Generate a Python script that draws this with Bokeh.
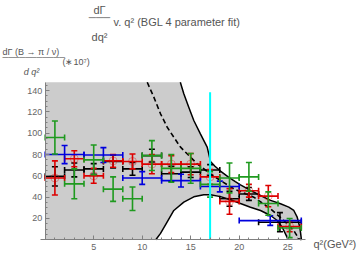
import numpy as np
from bokeh.plotting import figure
from bokeh.models import Label, Range1d, FixedTicker
from bokeh.embed import file_html
from bokeh.resources import INLINE

# ---------------- data ----------------
# upper / lower bound of the fit band and central (dashed) fit
upper_x = [13.93, 14.29, 14.80, 15.32, 16.0, 16.70, 17.04, 17.5, 18.07, 18.93, 19.6, 20.13,
           21.16, 22.20, 23.23, 24.26, 25.11, 25.63, 25.98, 26.25, 26.42]
upper_y = [147.8, 137, 124.4, 111.9, 99.4, 86.9, 73.5, 69, 64.5, 58.5, 54.5, 51.5,
           46.3, 41.6, 37.0, 33.8, 30.6, 27.5, 21.2, 11.8, 0]
lower_x = [11.4, 11.89, 12.4, 13.26, 14.29, 15.32, 16.35, 17.04, 18.07, 19.10, 20.13,
           21.16, 22.20, 23.23, 23.92, 24.43, 24.77, 25.05]
lower_y = [0, 6, 14, 27.5, 35.3, 40.3, 42.3, 42.3, 40.5, 37.5, 34.0,
           30.6, 27.5, 22.8, 18.1, 11.8, 5.6, 0]
dash_x = [10.52, 11.20, 11.89, 12.58, 13.26, 13.95, 14.98, 15.67, 17.0, 18.07, 19.44,
          21.5, 23.23, 24.6, 25.63, 26.15, 26.42]
dash_y = [147.8, 133.8, 118.2, 105.6, 96.2, 86.9, 77.5, 71.3, 62, 55.6, 47.8,
          40, 29.1, 18.1, 8.7, 0.9, 0]
cut_q2 = 17.0
cut_top = 138.5

# black series (12 bins)
k_x = [1, 3, 5, 7, 9, 11, 13, 15, 17, 19, 21, 24.2]
k_ex = [1, 1, 1, 1, 1, 1, 1, 1, 1, 1, 1, 2.2]
k_y = [59.5, 65.5, 66.5, 73.5, 66.5, 79, 62, 63.5, 65.5, 38.5, 43, 16.5]
k_ey = [9, 6.5, 5, 6, 6, 6, 7, 5, 5, 7, 6, 9]
# red series (13 bins)
r_x = [1, 3, 5, 7, 9, 11, 13, 15, 17, 19, 21, 23, 25.2]
r_ex = [1, 1, 1, 1, 1, 1, 1, 1, 1, 1, 1, 1, 1.2]
r_y = [58, 76, 60, 74, 73.5, 71, 71, 71, 59, 36, 46, 41, 12.5]
r_ey = [16, 7.5, 7, 6, 7, 9, 8, 10, 7, 12, 6, 10, 5]
# blue series (6 bins)
b_x = [2, 6, 10, 14, 18, 23.2]
b_ex = [2, 2, 2, 2, 2, 3.2]
b_y = [80, 79.5, 58, 55.5, 50, 18]
b_ey = [8.5, 7, 6, 6, 5, 4.5]
# green series (13 bins)
g_x = [1, 3, 5, 7, 9, 11, 13, 15, 17, 19, 21, 23, 25.2]
g_ex = [1, 1, 1, 1, 1, 1, 1, 1, 1, 1, 1, 1, 1.2]
g_y = [96, 52.5, 75, 47.5, 38.5, 79, 67, 67, 52, 58, 59, 34, 11]
g_ey = [15.5, 14, 14, 11.5, 11, 14, 13, 14, 12, 14, 13.5, 11, 9]

x_ticks = [5, 10, 15, 20, 25]
y_ticks = [20, 40, 60, 80, 100, 120, 140]
X_MIN, X_MAX = 0.0, 26.8     # plot range of the panel
Y_MIN, Y_MAX = 0.0, 147.8

TXT = "#555555"
TICK_TXT = "#666666"
FONT = "Liberation Sans"

W, H = 360, 256
OX, OY = 44.7, 239.3         # page pixel of the origin
SX, SY = 9.7, 1.066          # pixels per unit

p = figure(width=W, height=H, output_backend="svg", toolbar_location=None,
           x_range=Range1d(-OX / SX, (W - OX) / SX),
           y_range=Range1d(-(H - OY) / SY, OY / SY),
           min_border=0)
p.background_fill_color = "white"
p.border_fill_color = "white"
p.outline_line_color = None
p.grid.visible = False

for ax in (p.xaxis[0], p.yaxis[0]):
    ax.fixed_location = 0
    ax.axis_line_color = "#808080"
    ax.major_tick_line_color = "#808080"
    ax.minor_tick_line_color = "#808080"
    ax.major_tick_in = 4
    ax.major_tick_out = 0
    ax.minor_tick_in = 2
    ax.minor_tick_out = 0
    ax.major_label_text_color = TICK_TXT
    ax.major_label_text_font = FONT
    ax.major_label_text_font_size = "9px"
p.xaxis.bounds = (-0.45, X_MAX)
p.yaxis.bounds = (Y_MIN, Y_MAX)
p.xaxis.ticker = FixedTicker(ticks=x_ticks, minor_ticks=list(range(1, 27)))
p.yaxis.ticker = FixedTicker(ticks=y_ticks, minor_ticks=list(range(5, 148, 5)))
p.xaxis.major_label_standoff = 4
p.yaxis.major_label_standoff = 3

# gray band
px = [X_MIN] + upper_x + lower_x[::-1] + [X_MIN]
py = [Y_MAX] + upper_y + lower_y[::-1] + [Y_MIN]
p.patch(px, py, fill_color="#cccccc", line_color=None)
p.line(upper_x, upper_y, line_color="black", line_width=1.5)
p.line(lower_x, lower_y, line_color="black", line_width=1.5)
p.line(dash_x, dash_y, line_color="black", line_width=1.6, line_dash="5 3")


def errbars(x, y, ex, ey, color, circles=False):
    x = np.array(x, float); y = np.array(y, float)
    ex = np.array(ex, float); ey = np.array(ey, float)
    p.segment(x - ex, y, x + ex, y, line_color=color, line_width=1.6)
    p.segment(x, y - ey, x, y + ey, line_color=color, line_width=1.6)
    p.scatter(np.concatenate([x - ex, x + ex]), np.concatenate([y, y]), marker="dash",
              angle=np.pi / 2, size=6, line_color=color, line_width=1.6)
    p.scatter(np.concatenate([x, x]), np.concatenate([y - ey, y + ey]), marker="dash",
              size=6, line_color=color, line_width=1.6)
    if circles:
        p.scatter(x, y, marker="circle", size=8, fill_color=None, line_color=color,
                  line_alpha=0.35, line_width=1)


errbars(k_x, k_y, k_ex, k_ey, "black")
errbars(r_x, r_y, r_ex, r_ey, "#dd0000", circles=True)
errbars(b_x, b_y, b_ex, b_ey, "#0000dd")
errbars(g_x, g_y, g_ex, g_ey, "#1f9a1f")

p.segment([cut_q2], [Y_MIN], [cut_q2], [cut_top], line_color="#00ffff", line_width=2)


def lab(text, x, y, size, align="left", style="normal", baseline="alphabetic", color=TXT):
    # x, y in page pixels (y from top)
    p.add_layout(Label(x=x, y=H - y, x_units="screen", y_units="screen", text=text,
                       text_font=FONT, text_font_size=size, text_color=color,
                       text_align=align, text_baseline=baseline, text_font_style=style))


# title  dΓ/dq² v. q² (BGL 4 parameter fit)
lab("dΓ", 99, 9.5, "11px", align="center")
lab("───", 99, 16.7, "10px", align="center", baseline="middle")
lab("dq²", 99, 36, "11px", align="center")
lab("v. q² (BGL 4 parameter fit)", 113, 21.5, "11px")
# y label
lab("dΓ (B → π / ν)", 2, 51, "9px")
lab("───────────", 2, 57, "8px", baseline="middle")
lab("d q²", 31, 71.5, "9px", align="center", style="italic")
lab("(∗10⁷)", 62, 61, "9px")
# x label
lab("q²(GeV²)", 313, 243.5, "11px")

open("out.html", "w").write(file_html(p, INLINE))
